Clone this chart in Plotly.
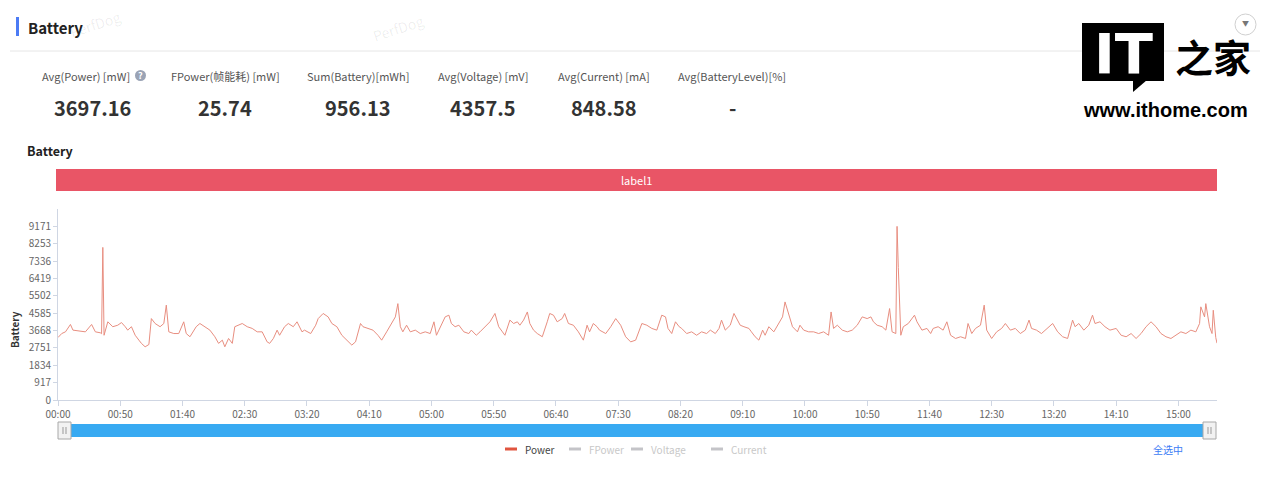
import plotly.graph_objects as go

# PerfDog battery capture - Power (mW) vs time (s)
TIME_S = [
    0, 3, 6, 10, 12, 16, 22, 27, 30, 34, 35, 36, 37, 40, 44, 48, 51, 54, 56, 59,
    62, 65, 67, 70, 73, 75, 78, 82, 85, 87, 89, 93, 97, 101, 103, 106, 109, 111, 114, 118,
    122, 126, 129, 132, 134, 137, 140, 142, 145, 148, 152, 156, 160, 164, 168, 170, 173, 176, 178, 182,
    185, 189, 192, 196, 198, 203, 207, 209, 213, 217, 220, 224, 228, 232,
    236, 239, 243, 245, 249, 253, 257, 260, 264, 268, 271, 273, 275, 277, 280, 283, 287, 291, 295, 299,
    302, 304, 308, 311, 314, 316, 319, 322, 326, 330, 332, 336, 339, 343, 347, 351, 354, 357, 359, 363,
    366, 369, 371, 374, 377, 379, 382, 385, 389, 393, 395, 398, 401, 405, 407, 410, 414, 418, 422, 425,
    427, 430, 433, 435, 440, 444, 448, 452, 456, 460, 464,
    469, 473, 477, 481, 485, 488, 490, 493, 496, 499, 501, 505, 509, 513, 517, 521, 524, 528, 531, 533,
    536, 540, 543, 545, 548, 551, 555, 557, 560, 563, 566, 568, 571, 575, 579, 582, 584, 587, 590, 594,
    596, 599, 603, 607, 611, 615, 619, 621, 623, 626, 630, 634, 638, 642, 646, 650, 653, 655, 658, 662,
    665, 668, 670, 673, 674, 675, 677, 679, 683, 688, 690, 694, 698,
    701, 703, 707, 711, 714, 717, 721, 725, 729, 731, 734, 737, 741, 744, 746, 750, 754, 758, 761, 765,
    769, 773, 777, 780, 782, 786, 790, 795, 799, 803, 807, 811, 815, 817, 820, 824, 828, 831, 833, 837,
    841, 845, 850, 854, 858, 862, 866, 870, 874, 878, 882, 886, 890, 894, 898, 902, 906, 910, 914, 917,
    918, 921, 922, 925, 927, 928, 930, 931,
]
POWER_MW = [
    3300, 3510, 3600, 3990, 3690, 3650, 3600, 3990, 3600, 3550, 3500, 8060, 3420, 4130, 3870, 3950, 4090, 3870, 3690, 3870,
    3420, 3160, 2990, 2810, 2930, 4300, 4040, 3870, 4040, 5010, 3600, 3510, 3510, 4130, 3510, 3340, 3690, 3870, 4040, 3870,
    3690, 3340, 2990, 3160, 2810, 3250, 2990, 3870, 3950, 4040, 3870, 3780, 3600, 3600, 3070, 2990, 3250, 3690, 3420, 3870,
    4040, 3870, 4130, 3600, 3690, 3510, 3950, 4300, 4570, 4390, 4040, 3870, 3420, 3160,
    2900, 3070, 4040, 3870, 3780, 3690, 3420, 3160, 3600, 4040, 4390, 5090, 3870, 3600, 3950, 3600, 3690, 3510, 3600, 3510,
    4130, 3420, 3950, 4390, 4480, 4040, 3870, 3950, 3600, 3510, 3690, 3420, 3600, 3870, 4130, 4570, 3870, 3600, 3420, 4220,
    4040, 4130, 3950, 4220, 4650, 4040, 3690, 3510, 3340, 4130, 4570, 4480, 4130, 4300, 4570, 4040, 3950, 3600, 3160, 3950,
    3600, 4040, 3870, 3690, 3510, 3870, 4300, 3950, 3340, 3070, 3160,
    4040, 3950, 3780, 3690, 4480, 4390, 3780, 3510, 4130, 3870, 3780, 3510, 3600, 3420, 3600, 3510, 3690, 3510, 3780, 4220,
    3690, 3950, 4570, 4300, 3950, 3870, 3780, 3600, 3340, 3160, 3690, 3420, 3870, 3600, 4040, 4390, 5180, 4570, 3870, 3600,
    3950, 3690, 3600, 3600, 3510, 3600, 3420, 4650, 3780, 3950, 3690, 3600, 3690, 3950, 4390, 4300, 4390, 4130, 3950, 3870,
    3690, 4830, 3600, 3510, 9171, 7000, 3420, 3870, 4040, 4480, 4130, 3690, 3780,
    3510, 3780, 3870, 3690, 4130, 3420, 3250, 3340, 3250, 4040, 3510, 3780, 3950, 5010, 3690, 3250, 3600, 3780, 4040, 3690,
    3780, 3510, 3690, 4220, 3780, 3690, 3510, 3780, 4040, 3600, 3340, 3250, 4220, 3870, 4040, 3690, 3950, 4480, 4040, 4130,
    3870, 3690, 3780, 3420, 3340, 3510, 3250, 3510, 3870, 4130, 3870, 3510, 3340, 3250, 3420, 3600, 3510, 3690, 3600, 4040,
    4920, 4390, 5090, 3870, 3510, 4740, 3300, 3000,
]

Y_TICKS = [0, 917.1, 1834.2, 2751.3, 3668.4, 4585.5, 5502.6, 6419.7, 7336.8, 8253.9, 9171]
Y_TICK_TEXT = ["0", "917", "1834", "2751", "3668", "4585", "5502", "6419", "7336", "8253", "9171"]
X_TICKS = [0, 50, 100, 150, 200, 250, 300, 350, 400, 450, 500, 550, 600, 650, 700, 750, 800, 850, 900]
X_TICK_TEXT = ["00:00", "00:50", "01:40", "02:30", "03:20", "04:10", "05:00", "05:50", "06:40", "07:30",
               "08:20", "09:10", "10:00", "10:50", "11:40", "12:30", "13:20", "14:10", "15:00"]

STAT_LABELS = ["Avg(Power) [mW]", "FPower(帧能耗) [mW]", "Sum(Battery)[mWh]",
               "Avg(Voltage) [mV]", "Avg(Current) [mA]", "Avg(BatteryLevel)[%]"]
STAT_VALUES = ["3697.16", "25.74", "956.13", "4357.5", "848.58", "-"]
LEGEND_NAMES = ["Power", "FPower", "Voltage", "Current"]

FONT = "Noto Sans CJK SC, Noto Sans, sans-serif"
W, H = 1268, 488
BODY = 8  # default page margin around the plot div
PL, PR, PT, PB = 58, 1217, 209, 400  # plot box in screenshot pixels


def px(x):
    return (x - PL) / (PR - PL)


def py(y):
    return (PB - y) / (PB - PT)


def text(x, y, s, size=11, color="#555", bold=False, anchor="center", angle=0, family=FONT):
    return dict(
        x=px(x), y=py(y), xref="paper", yref="paper", text=f"<b>{s}</b>" if bold else s,
        showarrow=False, xanchor=anchor, yanchor="middle", textangle=angle,
        font=dict(size=size, color=color, family=family),
    )


def rect(x0, y0, x1, y1, fill, line=None, lw=0):
    return dict(
        type="rect", xref="paper", yref="paper", x0=px(x0), x1=px(x1), y0=py(y0), y1=py(y1),
        fillcolor=fill, line=dict(color=line or fill, width=lw), layer="above",
    )


def hline(x0, x1, y, color, width=1):
    return dict(type="line", xref="paper", yref="paper", x0=px(x0), x1=px(x1), y0=py(y), y1=py(y),
                line=dict(color=color, width=width), layer="above")


fig = go.Figure()
fig.add_trace(go.Scatter(
    x=TIME_S, y=POWER_MW, mode="lines", name="Power",
    line=dict(color="#e88e80", width=1), hoverinfo="x+y",
))

annotations = []
shapes = []

# page header
shapes.append(rect(16, 17, 19, 36, "#4b7bf5"))
annotations.append(text(26, 27, "Battery", size=15, color="#222", bold=True, anchor="left"))
shapes.append(hline(10, 1268, 51, "#e6e6e6"))
annotations.append(text(95, 24, "PerfDog", size=14, color="rgba(0,0,0,0.07)", angle=-18))
annotations.append(text(398, 28, "PerfDog", size=14, color="rgba(0,0,0,0.07)", angle=-18))

# summary numbers
stat_x = [92, 225, 358, 483, 604, 732]
for i, (lab, val) in enumerate(zip(STAT_LABELS, STAT_VALUES)):
    xl = stat_x[i] - 6 if i == 0 else stat_x[i]
    annotations.append(text(xl, 76, lab, size=11, color="#555"))
    annotations.append(text(stat_x[i], 108, val, size=20, color="#333", bold=True))
shapes.append(dict(type="circle", xref="paper", yref="paper", x0=px(135), x1=px(146), y0=py(70), y1=py(81),
                   fillcolor="#9aa3b5", line=dict(color="#9aa3b5", width=0), layer="above"))
annotations.append(text(140.5, 75.5, "?", size=9, color="white", bold=True))

# chart header + label band
annotations.append(text(25, 150, "Battery", size=12.5, color="#222", bold=True, anchor="left"))
shapes.append(rect(56, 169, 1217, 191, "#e95566"))
annotations.append(text(636, 180, "label1", size=11, color="white"))
annotations.append(text(14, 330, "Battery", size=10, color="#333", bold=True, angle=-90))

# data zoom slider
shapes.append(rect(62, 424, 1212, 437, "#38aaf2"))
for hx in (58, 1203):
    shapes.append(rect(hx, 422, hx + 13, 439, "#f2f2f2", "#a8a8a8", 1))
    for dx in (5, 8):
        shapes.append(dict(type="line", xref="paper", yref="paper", x0=px(hx + dx), x1=px(hx + dx),
                           y0=py(427), y1=py(434), line=dict(color="#999", width=1), layer="above"))

# legend
leg_icon_x = [505, 569, 631, 711]
for i, name in enumerate(LEGEND_NAMES):
    col = "#e0553f" if i == 0 else "#c4c4c8"
    tcol = "#444" if i == 0 else "#c8c8c8"
    shapes.append(hline(leg_icon_x[i], leg_icon_x[i] + 12, 449, col, 3))
    annotations.append(text(leg_icon_x[i] + 18, 449, name, size=10, color=tcol, anchor="left"))
annotations.append(text(1168, 449, "全选中", size=10, color="#3d7cf5"))

# ithome logo
shapes.append(rect(1082, 23, 1164, 81, "#000"))
shapes.append(dict(type="path", xref="paper", yref="paper",
                   path=f"M {px(1133)} {py(80)} L {px(1133)} {py(92)} L {px(1147)} {py(80)} Z",
                   fillcolor="#000", line=dict(color="#000", width=0), layer="above"))
annotations.append(text(1123, 53, "IT", size=56, color="white", bold=True, family="DejaVu Sans"))
annotations.append(text(1213, 55, "之家", size=38, color="black", bold=True))
annotations.append(text(1165, 110, "www.ithome.com", size=20, color="black", bold=True, family="Liberation Sans"))
shapes.append(dict(type="circle", xref="paper", yref="paper", x0=px(1235), x1=px(1256), y0=py(14), y1=py(35),
                   fillcolor="rgba(255,255,255,0)", line=dict(color="#d0d0d0", width=1), layer="below"))
annotations.append(text(1245.5, 23, "▼", size=7, color="#777"))

axis_common = dict(
    showline=True, linecolor="#cfd6e3", linewidth=1, ticks="outside", tickcolor="#cfd6e3",
    showgrid=False, zeroline=False, tickfont=dict(size=10, color="#666", family=FONT),
)
# the page adds an 8px body margin, so the figure is shrunk and shifted by that much
fig.update_layout(
    width=W - BODY, height=H - BODY,
    margin=dict(l=PL - BODY, r=W - PR, t=PT - BODY, b=H - PB),
    paper_bgcolor="white", plot_bgcolor="white",
    showlegend=False,
    xaxis=dict(range=[0, 931], tickvals=X_TICKS, ticktext=X_TICK_TEXT, ticklen=5, **axis_common),
    yaxis=dict(range=[0, 10088], tickvals=Y_TICKS, ticktext=Y_TICK_TEXT, ticklen=4, **axis_common),
    annotations=annotations,
    shapes=shapes,
    font=dict(family=FONT),
)

fig.write_html("out.html")
